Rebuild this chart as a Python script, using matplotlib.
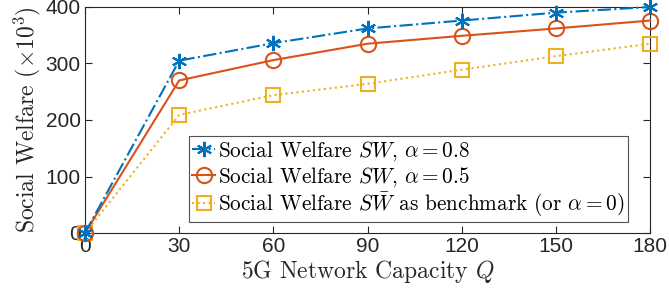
import numpy as np
import matplotlib
matplotlib.use("Agg")
import matplotlib.pyplot as plt

plt.rcParams['mathtext.fontset'] = 'cm'
plt.rcParams['axes.unicode_minus'] = False

capacity = [0, 30, 60, 90, 120, 150, 180]
sw_08 = [0, 305, 336, 362, 376, 390, 400]
sw_05 = [0, 270, 306, 335, 349, 362, 376]
sw_bench = [0, 209, 244, 264, 289, 313, 335]

labels = ["Social Welfare $SW$, $\\alpha=0.8$",
          "Social Welfare $SW$, $\\alpha=0.5$",
          "Social Welfare $S\\bar{W}$ as benchmark (or $\\alpha=0$)"]

blue = '#0072BD'
red = '#D95319'
yellow = '#EDB120'

fig = plt.figure(figsize=(6.69, 3.06), dpi=100)
ax = fig.add_axes([85/669, 1 - 233/306, 565/669, 226/306])

ax.plot(capacity, sw_08, color=blue, ls='-.', lw=1.5, marker=(6, 2, 0),
        ms=11, mew=1.5, label=labels[0], clip_on=False, zorder=5)
ax.plot(capacity, sw_05, color=red, ls='-', lw=1.5, marker='o',
        ms=11, mfc='none', mew=1.5, label=labels[1], clip_on=False, zorder=4)
ax.plot(capacity, sw_bench, color=yellow, ls=':', lw=1.5, marker='s',
        ms=10, mfc='none', mew=1.5, label=labels[2], clip_on=False, zorder=3)

ax.set_xlim(0, 180)
ax.set_ylim(0, 400)
ax.set_xticks(capacity)
ax.set_yticks([0, 100, 200, 300, 400])
ax.tick_params(direction='in', top=True, right=True, labelsize=15,
               length=5, width=0.8, colors='#262626', pad=3)
for lab in ax.get_xticklabels() + ax.get_yticklabels():
    lab.set_fontfamily('Liberation Sans')
for s in ax.spines.values():
    s.set_color('#262626')
    s.set_linewidth(0.8)

ax.set_xlabel("5G Network Capacity $Q$", fontfamily='cmr10', fontsize=17,
              color='#262626', labelpad=1)
ax.set_ylabel("Social Welfare ($\\times 10^3$)", fontfamily='cmr10',
              fontsize=17, color='#262626', labelpad=2)

leg = ax.legend(loc='lower right', bbox_to_anchor=(0.961, 0.049),
                prop={'family': 'cmr10', 'size': 15.3}, frameon=True,
                fancybox=False, edgecolor='#262626', borderpad=0.15,
                labelspacing=0.08, handlelength=1.1, handletextpad=0.15,
                borderaxespad=0.0)
leg.get_frame().set_linewidth(0.8)
leg.set_zorder(10)

fig.savefig("out.png", dpi=100)
